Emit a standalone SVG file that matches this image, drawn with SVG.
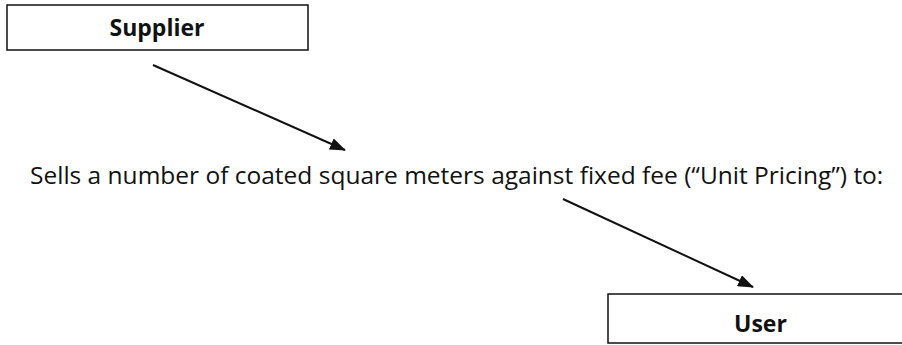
<svg xmlns="http://www.w3.org/2000/svg" width="902" height="345" viewBox="0 0 902 345">
<style>
.box{fill:#fff;stroke:#111;stroke-width:1.5}
.lbl{font-family:"Open Sans","Liberation Sans",sans-serif;font-size:24.5px;fill:#111}
.b{font-weight:bold;font-size:23px}
.conn{stroke:#111;stroke-width:2;fill:none}
</style>
<defs>
<marker id="ah" viewBox="0 0 16 12" refX="15" refY="6" markerWidth="16" markerHeight="12" markerUnits="userSpaceOnUse" orient="auto">
<path d="M0,0 L16,6 L0,12 z" fill="#111"/>
</marker>
</defs>
<rect width="902" height="345" fill="#fff"/>
<g id="supplier">
<rect class="box" x="7" y="5" width="301" height="45"/>
<text class="lbl b" x="157" y="36" text-anchor="middle">Supplier</text>
</g>
<g id="sells">
<text class="lbl" x="30" y="184">Sells a number of coated square meters against fixed fee (“Unit Pricing”) to:</text>
</g>
<g id="user">
<rect class="box" x="608" y="294" width="300" height="49"/>
<text class="lbl b" x="734" y="332">User</text>
</g>
<g id="connectors">
<line class="conn" x1="153" y1="65" x2="345" y2="150" marker-end="url(#ah)"/>
<line class="conn" x1="563" y1="199" x2="753" y2="287" marker-end="url(#ah)"/>
</g>
</svg>
